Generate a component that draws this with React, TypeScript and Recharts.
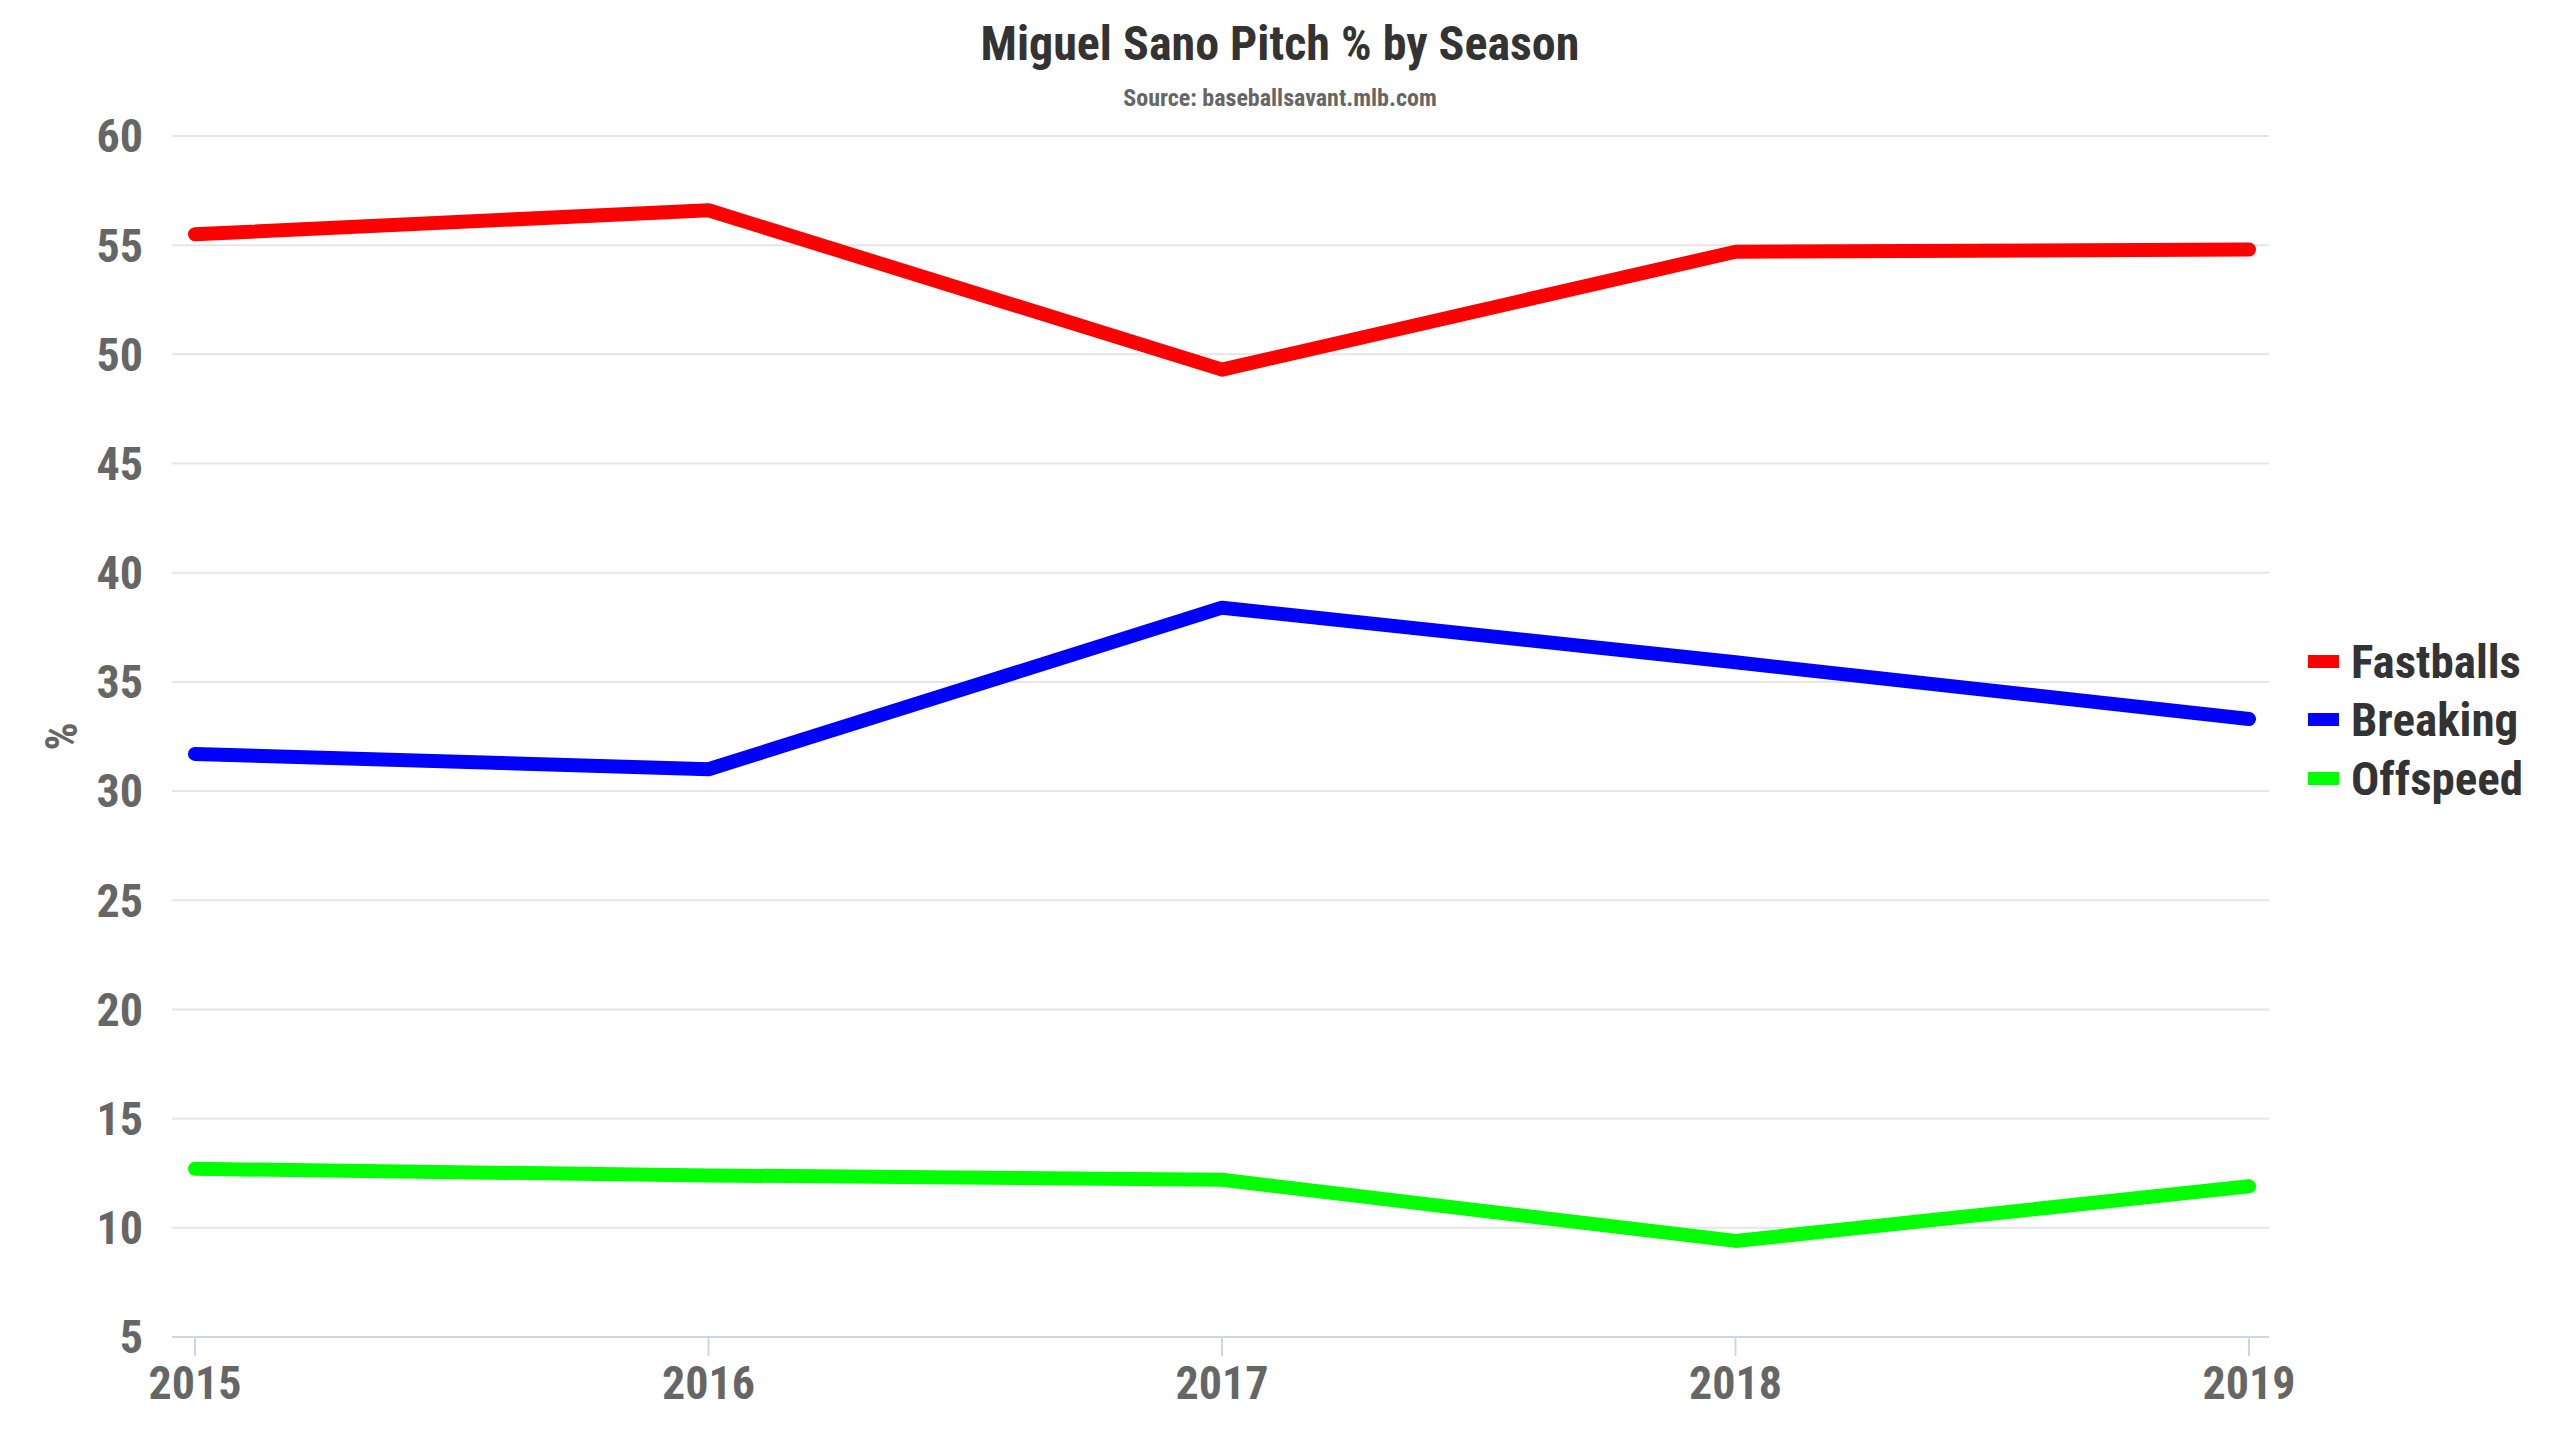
import React from "react";
import { LineChart, Line, XAxis, YAxis, CartesianGrid } from "recharts";

const seasons = ["2015", "2016", "2017", "2018", "2019"];
const fastballs = [55.5, 56.6, 49.3, 54.7, 54.8];
const breaking = [31.7, 31.0, 38.4, 35.9, 33.3];
const offspeed = [12.7, 12.4, 12.2, 9.4, 11.9];
const yTicks = [5, 10, 15, 20, 25, 30, 35, 40, 45, 50, 55, 60];

const seriesDefs = [
  { key: "Fastballs", values: fastballs, color: "#ff0000" },
  { key: "Breaking", values: breaking, color: "#0000ff" },
  { key: "Offspeed", values: offspeed, color: "#00ff00" },
];

const data = seasons.map((s, i) => {
  const row: Record<string, any> = { season: s };
  seriesDefs.forEach((d) => (row[d.key] = d.values[i]));
  return row;
});

const FONT = "'Roboto Condensed', Roboto, 'Liberation Sans Narrow', sans-serif";
const fontStyle: React.CSSProperties = { fontFamily: FONT, fontStretch: "condensed" };

export default function App() {
  return (
    <div style={{ position: "absolute", left: 0, top: 0, width: 2560, height: 1440, background: "#fff", ...fontStyle }}>
      <div style={{ position: "absolute", left: 0, width: 2560, top: 17, textAlign: "center", fontSize: 48, fontWeight: 700, color: "#333333", lineHeight: "54px", ...fontStyle }}>
        Miguel Sano Pitch % by Season
      </div>
      <div style={{ position: "absolute", left: 0, width: 2560, top: 84, textAlign: "center", fontSize: 24, fontWeight: 700, color: "#666666", lineHeight: "28px", ...fontStyle }}>
        Source: baseballsavant.mlb.com
      </div>
      <LineChart width={2560} height={1440} data={data} margin={{ top: 136, right: 291, bottom: 0, left: 0 }} style={{ position: "absolute", left: 0, top: 0 }}>
        <CartesianGrid vertical={false} stroke="#e6e6e6" strokeWidth={2} />
        <XAxis
          dataKey="season"
          padding={{ left: 23, right: 20 }}
          height={103}
          stroke="#ccd6eb"
          strokeWidth={2}
          tickSize={19}
          tickMargin={10}
          tick={{ fill: "#666666", fontSize: 46, fontWeight: 700, fontFamily: FONT, style: { fontStretch: "condensed" } }}
          tickLine={{ stroke: "#ccd6eb", strokeWidth: 2 }}
        />
        <YAxis
          domain={[5, 60]}
          ticks={yTicks}
          width={172}
          axisLine={false}
          tickLine={false}
          tickSize={0}
          tickMargin={29}
          tick={{ fill: "#666666", fontSize: 46, fontWeight: 700, fontFamily: FONT, style: { fontStretch: "condensed" } }}
          label={{ value: "%", angle: -90, position: "insideLeft", offset: 61, fill: "#666666", fontSize: 44, fontWeight: 700, fontFamily: FONT, style: { fontStretch: "condensed", textAnchor: "middle" } }}
        />
        {seriesDefs.map((d) => (
          <Line
            key={d.key}
            type="linear"
            dataKey={d.key}
            stroke={d.color}
            strokeWidth={14}
            strokeLinecap="round"
            strokeLinejoin="round"
            dot={false}
            activeDot={false}
            isAnimationActive={false}
          />
        ))}
      </LineChart>
      <div style={{ position: "absolute", left: 2308, top: 632, display: "flex", flexDirection: "column" }}>
        {seriesDefs.map((d) => (
          <div key={d.key} style={{ display: "flex", alignItems: "center", height: 58.5 }}>
            <div style={{ width: 31, height: 13, background: d.color, marginRight: 12 }} />
            <span style={{ ...fontStyle, fontSize: 47, fontWeight: 700, color: "#333333", lineHeight: 1 }}>{d.key}</span>
          </div>
        ))}
      </div>
    </div>
  );
}
